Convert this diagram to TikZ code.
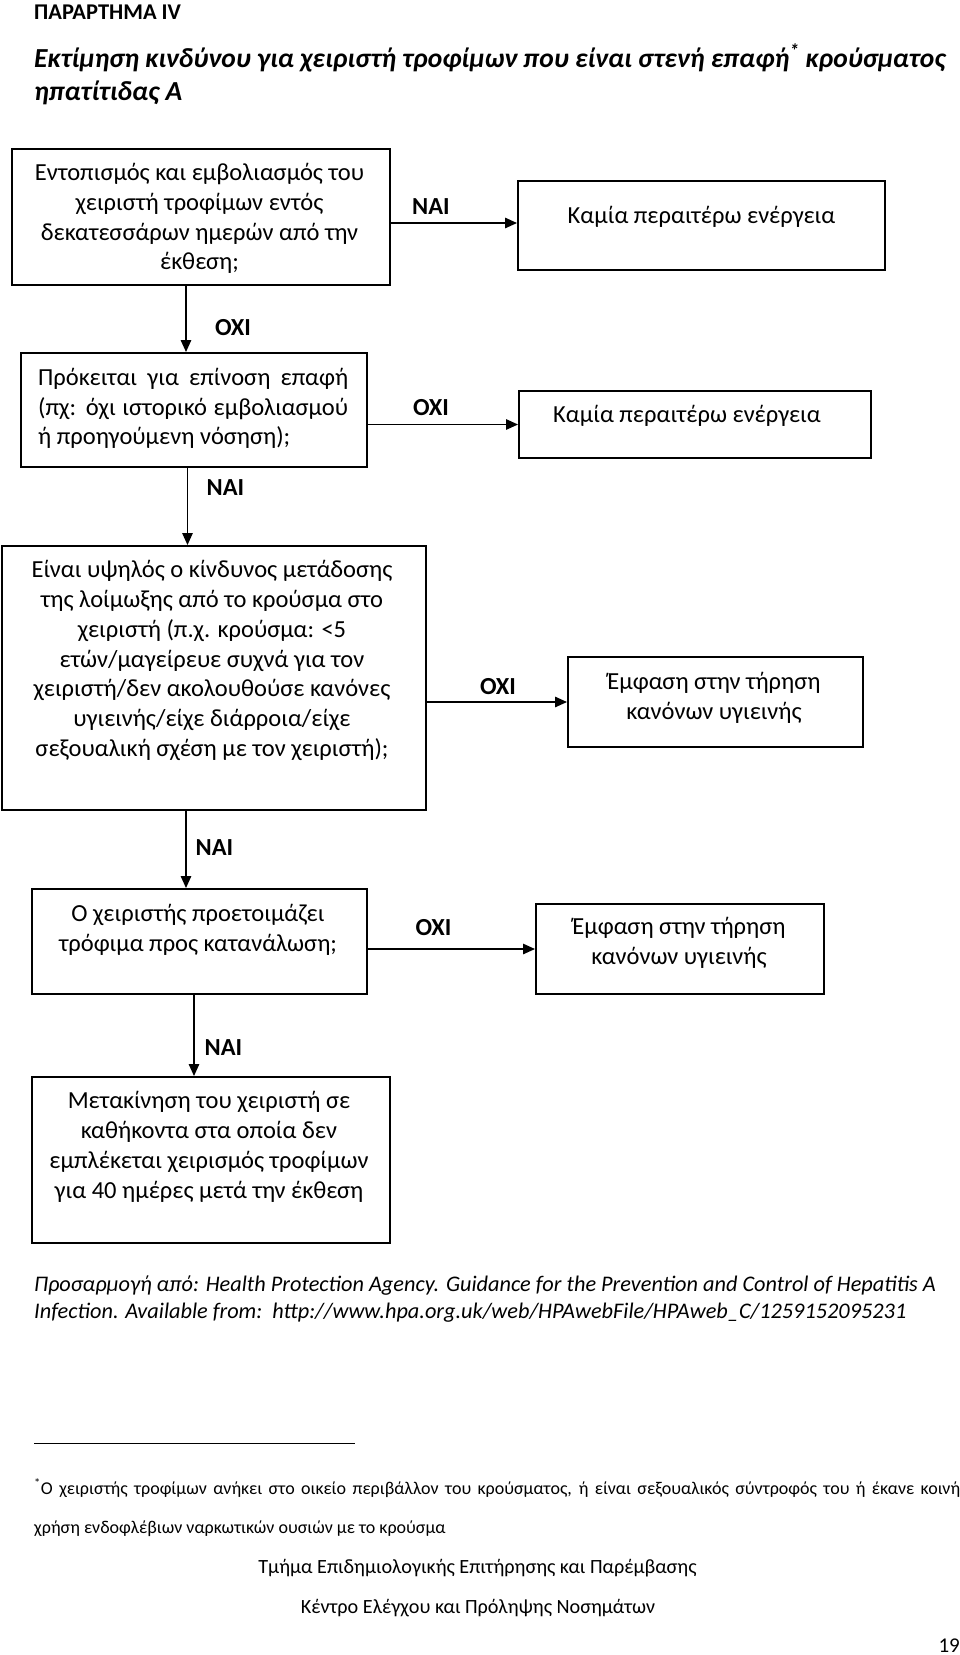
\documentclass[tikz,border=0pt]{standalone}
\usepackage{fontspec}
\setmainfont{Carlito}
\usetikzlibrary{arrows.meta}
\newcommand{\fs}[2]{\fontsize{#1}{#2}\selectfont}
\begin{document}
\begin{tikzpicture}[x=1pt,y=-1pt,
  box/.style={draw, line width=2pt, minimum width=#1, anchor=north west, inner sep=0pt},
  btext/.style={font=\fs{24.5}{29.8}, align=center, inner sep=0pt},
  lbl/.style={font=\fs{24.5}{28}\bfseries, inner sep=0pt},
  arr/.style={line width=1.4pt, -{Triangle[length=12pt,width=10.5pt]}},
  fnt/.style={inner sep=0pt, anchor=base west}]
\useasboundingbox (0,0) rectangle (960,1655);

% header
\node[fnt, font=\fs{22.5}{27}\bfseries] (hdr) at (34,19.5) {ΠΑΡΑΡΤΗΜΑ IV};
\node[fnt, font=\fs{27.5}{32}\bfseries\itshape] (st1) at (34,67) {Εκτίμηση κινδύνου για χειριστή τροφίμων που είναι στενή επαφή\textsuperscript{*} κρούσματος};
\node[fnt, font=\fs{27.5}{32}\bfseries\itshape] (st2) at (34,100) {ηπατίτιδας Α};

% boxes
\node[box=378pt, minimum height=136pt] (b1) at (10.5,148) {};
\node[box=367pt, minimum height=89pt] (b2) at (517,180) {};
\node[box=346pt, minimum height=114pt] (b3) at (20,352) {};
\node[box=352pt, minimum height=67pt] (b4) at (518,390) {};
\node[box=424pt, minimum height=264pt] (b5) at (1,545) {};
\node[box=295pt, minimum height=90pt] (b6) at (567,656) {};
\node[box=335pt, minimum height=105pt] (b7) at (31,888) {};
\node[box=288pt, minimum height=90pt] (b8) at (535,903) {};
\node[box=358pt, minimum height=166pt] (b9) at (31,1076) {};

% box texts
\node[btext] (t1) at (199.5,218.5) {Εντοπισμός και εμβολιασμός του\\χειριστή τροφίμων εντός\\δεκατεσσάρων ημερών από την\\έκθεση;};
\node[btext] (t2) at (701.5,217) {Καμία περαιτέρω ενέργεια};
\node[btext, align=left, anchor=west] (t3) at (38,408.5) {\makebox[310pt][s]{Πρόκειται για επίνοση επαφή}\\\makebox[310pt][s]{(πχ: όχι ιστορικό εμβολιασμού}\\ή προηγούμενη νόσηση);};
\node[btext] (t4) at (687,416) {Καμία περαιτέρω ενέργεια};
\node[btext] (t5) at (212,660.5) {Είναι υψηλός ο κίνδυνος μετάδοσης\\της λοίμωξης από το κρούσμα στο\\χειριστή (π.χ. κρούσμα: <5\\ετών/μαγείρευε συχνά για τον\\χειριστή/δεν ακολουθούσε κανόνες\\υγιεινής/είχε διάρροια/είχε\\σεξουαλική σχέση με τον χειριστή);};
\node[btext] (t6) at (714,697.5) {Έμφαση στην τήρηση\\κανόνων υγιεινής};
\node[btext] (t7) at (198,930) {Ο χειριστής προετοιμάζει\\τρόφιμα προς κατανάλωση;};
\node[btext] (t8) at (679,943) {Έμφαση στην τήρηση\\κανόνων υγιεινής};
\node[btext] (t9) at (209,1147) {Μετακίνηση του χειριστή σε\\καθήκοντα στα οποία δεν\\εμπλέκεται χειρισμός τροφίμων\\για 40 ημέρες μετά την έκθεση};

% connectors
\draw[arr] ([yshift=2.5pt]b1.east |- b2.west) -- ([yshift=2.5pt]b2.west);
\draw[arr] (b3.east |- b4.west) -- (b4.west);
\draw[arr] (b5.east |- b6.west) -- (b6.west);
\draw[arr] (b7.east |- b8.west) -- (b8.west);
\draw[arr] ([xshift=-14.5pt]b1.south) -- ([xshift=-14.5pt]b1.south |- b3.north);
\draw[arr] ([xshift=-6.5pt]b3.south) -- ([xshift=-6.5pt]b3.south |- b5.north);
\draw[arr] ([xshift=-28pt]b5.south) -- ([xshift=-28pt]b5.south |- b7.north);
\draw[arr] ([xshift=-5.5pt]b7.south) -- ([xshift=-5.5pt]b7.south |- b9.north);

% connector labels
\node[lbl] (l1) at (431,206.5) {ΝΑΙ};
\node[lbl] (l2) at (233,328) {ΟΧΙ};
\node[lbl] (l3) at (431,408) {ΟΧΙ};
\node[lbl] (l4) at (225.5,488) {ΝΑΙ};
\node[lbl] (l5) at (498,687) {ΟΧΙ};
\node[lbl] (l6) at (214.5,848) {ΝΑΙ};
\node[lbl] (l7) at (433.5,928) {ΟΧΙ};
\node[lbl] (l8) at (223.5,1048) {ΝΑΙ};

% citation
\node[fnt, font=\fs{22.3}{27}\itshape] (c1) at (34,1291) {Προσαρμογή από: Health Protection Agency. Guidance for the Prevention and Control of Hepatitis A};
\node[fnt, font=\fs{22.3}{27}\itshape] (c2) at (34,1318) {Infection. Available from:\ \ http://www.hpa.org.uk/web/HPAwebFile/HPAweb\_C/1259152095231};

% footnote
\coordinate (r1) at (34,1443);
\coordinate (r2) at (355,1443);
\draw[line width=1pt] (r1) -- (r2);
\node[fnt, font=\fs{18}{22}] (f1) at (34,1494) {\makebox[926pt][s]{\textsuperscript{*}Ο χειριστής τροφίμων ανήκει στο οικείο περιβάλλον του κρούσματος, ή είναι σεξουαλικός σύντροφός του ή έκανε κοινή}};
\node[fnt, font=\fs{18}{22}] (f2) at (34,1533) {χρήση ενδοφλέβιων ναρκωτικών ουσιών με το κρούσμα};

% page footer
\node[inner sep=0pt, anchor=base, font=\fs{20.2}{25}] (p1) at (477.5,1573) {Τμήμα Επιδημιολογικής Επιτήρησης και Παρέμβασης};
\node[inner sep=0pt, anchor=base, font=\fs{20.2}{25}] (p2) at (478,1613) {Κέντρο Ελέγχου και Πρόληψης Νοσημάτων};
\node[inner sep=0pt, anchor=base east, font=\fs{21}{25}] (pn) at (960,1652) {19};
\end{tikzpicture}
\end{document}
